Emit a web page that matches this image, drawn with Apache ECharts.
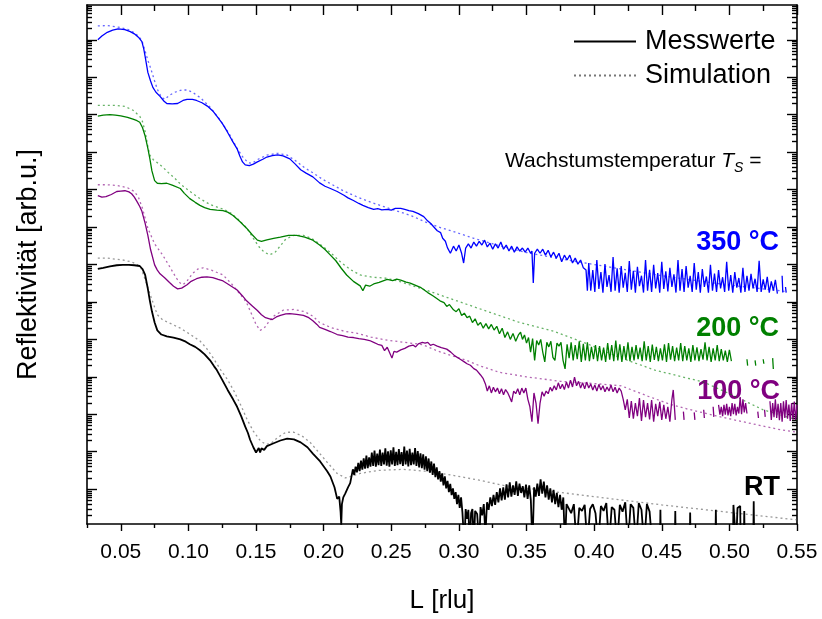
<!DOCTYPE html>
<html>
<head>
<meta charset="utf-8">
<title>Reflektivität</title>
<script src="https://cdn.jsdelivr.net/npm/echarts@6/dist/echarts.min.js"></script>
<style>
  html, body { margin: 0; background: #fff; }
  #main { width: 822px; height: 619px; }
</style>
</head>
<body>
<div id="main"></div>
<script>
// Werte: [L (rlu), log10(Reflektivität, arb.u.)], Kurven wie im Plot versetzt

var mess350 = [[0.033,12.00],[0.036,12.10],[0.040,12.20],[0.044,12.26],[0.048,12.29],[0.053,12.27],[0.057,12.22],[0.060,12.16],[0.063,12.07],[0.0656,11.95],[0.067,11.75],[0.068,11.55],[0.070,11.13],[0.072,10.90],[0.0737,10.73],[0.076,10.60],[0.079,10.49],[0.082,10.36],[0.084,10.30],[0.088,10.29],[0.092,10.30],[0.096,10.38],[0.099,10.41],[0.103,10.41],[0.106,10.38],[0.110,10.32],[0.114,10.23],[0.118,10.10],[0.121,9.96],[0.125,9.77],[0.1285,9.56],[0.132,9.33],[0.136,9.09],[0.138,8.90],[0.140,8.74],[0.142,8.66],[0.145,8.64],[0.148,8.68],[0.151,8.74],[0.155,8.81],[0.158,8.87],[0.162,8.91],[0.166,8.93],[0.170,8.90],[0.175,8.82],[0.179,8.68],[0.183,8.53],[0.187,8.44],[0.192,8.34],[0.197,8.18],[0.201,8.09],[0.205,8.03],[0.210,7.95],[0.215,7.85],[0.218,7.78],[0.222,7.71],[0.226,7.63],[0.229,7.58],[0.233,7.52],[0.237,7.47],[0.240,7.49],[0.243,7.46],[0.247,7.47],[0.250,7.45],[0.253,7.50],[0.257,7.50],[0.260,7.47],[0.263,7.44],[0.266,7.42],[0.270,7.36],[0.274,7.28],[0.277,7.16],[0.279,7.10],[0.281,7.02],[0.284,6.90],[0.2865,6.85],[0.288,6.70],[0.290,6.62],[0.2915,6.45],[0.2937,6.30],
  [0.296,6.49],[0.298,6.36],[0.300,6.52],[0.302,6.30],[0.3035,6.04],[0.305,6.44],[0.307,6.55],[0.309,6.44],[0.311,6.60],[0.313,6.49],[0.315,6.62],[0.317,6.52],[0.319,6.65],[0.321,6.47],[0.323,6.57],[0.325,6.41],[0.327,6.55],[0.329,6.44],[0.331,6.60],[0.333,6.41],[0.335,6.52],[0.337,6.36],[0.339,6.49],[0.341,6.33],[0.343,6.47],[0.345,6.36],[0.347,6.44],[0.349,6.33],[0.351,6.44],[0.353,6.30],[0.354,6.36],[0.355,5.51],[0.356,6.30],[0.358,6.41],[0.360,6.30],[0.362,6.41],[0.364,6.25],[0.366,6.38],[0.368,6.20],[0.370,6.33],[0.372,6.17],[0.374,6.30],[0.376,6.07],[0.378,6.25],[0.380,6.12],[0.382,6.25],[0.384,6.04],[0.386,6.17],[0.388,6.01],[0.390,6.12],[0.392,5.91],[0.394,5.85],[0.395,5.30],
  [0.3960,6.04],[0.3975,5.30],[0.3990,5.85],[0.4005,5.27],[0.4020,6.12],[0.4035,5.35],[0.4050,5.80],[0.4065,5.25],[0.4080,6.01],[0.4095,5.40],[0.4110,5.72],[0.4125,5.27],[0.4140,6.20],[0.4155,5.30],[0.4170,5.90],[0.4185,5.25],[0.4200,5.96],[0.4215,5.38],[0.4230,5.78],[0.4245,5.27],[0.4260,6.09],[0.4275,5.33],[0.4290,5.83],[0.4305,5.25],[0.4320,5.94],[0.4335,5.42],[0.4350,5.70],[0.4365,5.25],[0.4380,6.12],[0.4395,5.30],[0.4410,5.86],[0.4425,5.27],[0.4440,5.99],[0.4455,5.36],[0.4470,5.77],[0.4485,5.25],[0.4500,6.07],[0.4515,5.35],[0.4530,5.82],[0.4545,5.28],[0.4560,5.91],[0.4575,5.40],[0.4590,5.74],[0.4605,5.25],[0.4620,6.12],[0.4635,5.30],[0.4650,5.88],[0.4665,5.27],[0.4680,5.96],[0.4695,5.38],[0.4710,5.70],[0.4725,5.27],[0.4740,6.04],[0.4755,5.33],[0.4770,5.80],[0.4785,5.25],[0.4800,5.88],[0.4815,5.40],[0.4830,5.68],[0.4845,5.25],[0.4860,5.99],[0.4875,5.30],[0.4890,5.76],[0.4905,5.27],[0.4920,5.85],[0.4935,5.36],[0.4950,5.66],[0.4965,5.27],[0.4980,6.07],[0.4995,5.30],[0.5010,5.72],[0.5025,5.25],[0.5040,5.80],[0.5055,5.38],[0.5070,5.64],[0.5085,5.25],[0.5100,5.91],[0.5115,5.27],[0.5130,5.70],[0.5145,5.30],[0.5160,5.75],[0.5175,5.36],[0.5190,5.62],[0.5205,5.27],[0.5220,6.10],[0.5235,5.27],[0.5250,5.60],[0.5265,5.33],[0.5280,5.67],[0.5295,5.25],[0.5310,5.55],[0.5325,5.30],[0.5340,5.59],[0.5355,5.22],[0.5370,null],[0.5390,5.70],[0.5395,5.25],[0.5400,null],[0.5415,5.40],[0.5420,5.25]];

var sim350 = [[0.033,12.37],[0.040,12.38],[0.048,12.34],[0.055,12.28],[0.059,12.21],[0.063,12.10],[0.0656,11.98],[0.068,11.70],[0.070,11.45],[0.072,11.25],[0.075,10.90],[0.077,10.68],[0.080,10.47],[0.0826,10.41],[0.086,10.52],[0.090,10.60],[0.095,10.66],[0.099,10.66],[0.103,10.60],[0.109,10.45],[0.116,10.20],[0.123,9.88],[0.130,9.50],[0.136,9.10],[0.140,8.88],[0.144,8.72],[0.147,8.70],[0.151,8.80],[0.158,8.92],[0.166,8.97],[0.173,8.92],[0.180,8.75],[0.186,8.58],[0.192,8.45],[0.199,8.28],[0.205,8.16],[0.215,7.96],[0.225,7.80],[0.235,7.66],[0.245,7.54],[0.255,7.42],[0.265,7.30],[0.275,7.14],[0.285,7.00],[0.296,6.88],[0.311,6.70],[0.330,6.50],[0.350,6.32],[0.375,6.15],[0.400,6.00],[0.450,5.70],[0.500,5.45],[0.542,5.28]];

var mess200 = [[0.033,9.96],[0.037,9.99],[0.042,10.00],[0.046,9.99],[0.050,9.97],[0.055,9.93],[0.059,9.88],[0.062,9.84],[0.064,9.80],[0.066,9.66],[0.068,9.43],[0.070,9.10],[0.0715,8.82],[0.073,8.50],[0.075,8.24],[0.077,8.17],[0.080,8.16],[0.084,8.17],[0.088,8.12],[0.094,8.03],[0.097,7.90],[0.101,7.76],[0.105,7.66],[0.1085,7.58],[0.112,7.52],[0.116,7.47],[0.121,7.45],[0.1256,7.44],[0.129,7.40],[0.133,7.31],[0.138,7.15],[0.143,6.97],[0.147,6.80],[0.151,6.65],[0.154,6.62],[0.158,6.66],[0.163,6.70],[0.168,6.73],[0.174,6.78],[0.180,6.78],[0.186,6.73],[0.192,6.65],[0.197,6.52],[0.201,6.40],[0.205,6.25],[0.209,6.10],[0.213,5.90],[0.217,5.72],[0.222,5.55],[0.227,5.43],[0.229,5.30],[0.231,5.45],[0.234,5.42],[0.237,5.48],[0.241,5.52],[0.244,5.56],[0.247,5.60],[0.251,5.57],[0.254,5.61],[0.257,5.58],[0.261,5.53],[0.264,5.50],[0.268,5.44],[0.272,5.38],[0.277,5.25],[0.281,5.16],[0.286,5.03],[0.289,4.98],[0.291,4.88],[0.293,4.93],[0.296,4.79],[0.298,4.74],[0.300,4.82],[0.302,4.64],[0.304,4.70],[0.306,4.58],[0.308,4.62],[0.310,4.45],[0.312,4.55],[0.314,4.38],[0.316,4.45],[0.318,4.30],[0.320,4.42],[0.322,4.28],[0.324,4.40],[0.326,4.25],[0.328,4.35],[0.330,4.15],[0.332,4.30],[0.334,4.05],[0.336,4.20],[0.338,4.00],[0.340,4.16],[0.342,3.95],[0.344,4.12],
  [0.3456,4.19],[0.3470,4.00],[0.3485,4.12],[0.3500,3.90],[0.3515,4.05],[0.3530,3.66],[0.3545,4.02],[0.3560,3.44],[0.3575,3.97],[0.3590,3.85],[0.3605,4.00],[0.3620,3.66],[0.3635,3.40],[0.3650,3.92],[0.3665,3.80],[0.3680,3.95],[0.3695,3.52],[0.3710,3.44],[0.3725,3.90],[0.3740,3.82],[0.3755,3.92],[0.3770,3.44],[0.3785,3.21],[0.3800,3.87],[0.3815,3.50],[0.3830,3.92],[0.3845,3.44],[0.3860,3.85],[0.3875,3.47],[0.3890,3.95],[0.3905,3.40],[0.3920,3.88],[0.3935,3.44],[0.3950,3.92],[0.3965,3.42],[0.3980,3.80],[0.3995,3.47],[0.4010,3.85],[0.4025,3.42],[0.4040,3.82],[0.4055,3.44],[0.4070,3.78],[0.4085,3.40],[0.4100,3.90],[0.4115,3.46],[0.4130,3.85],[0.4145,3.42],[0.4160,3.97],[0.4175,3.44],[0.4190,3.87],[0.4205,3.40],[0.4220,3.82],[0.4235,3.45],[0.4250,3.92],[0.4265,3.42],[0.4280,3.80],[0.4295,3.44],[0.4310,3.85],[0.4325,3.47],[0.4340,3.78],[0.4355,3.42],[0.4370,3.95],[0.4385,3.44],[0.4400,3.82],[0.4415,3.40],[0.4430,3.86],[0.4445,3.45],[0.4460,3.80],[0.4475,3.42],[0.4490,3.76],[0.4505,3.44],[0.4520,3.87],[0.4535,3.40],[0.4550,3.90],[0.4565,3.46],[0.4580,3.82],[0.4595,3.42],[0.4610,3.78],[0.4625,3.44],[0.4640,3.90],[0.4655,3.42],[0.4670,3.82],[0.4685,3.44],[0.4700,3.76],[0.4715,3.40],[0.4730,3.85],[0.4745,3.44],[0.4760,3.79],[0.4775,3.42],[0.4790,3.74],[0.4805,3.46],[0.4820,3.92],[0.4835,3.44],[0.4850,3.80],[0.4865,3.40],[0.4880,3.76],[0.4895,3.44],[0.4910,3.85],[0.4925,3.42],[0.4940,3.74],[0.4955,3.44],[0.4970,3.70],[0.4985,3.40],[0.5000,3.72],[0.5015,3.42],[0.5030,null],
  [0.513,3.47],[0.5135,3.30],[0.514,null],[0.519,3.44],[0.5195,3.30],[0.520,null],[0.525,3.47],[0.5255,3.35],[0.526,null],[0.532,3.50],[0.5325,3.21]];

var sim200 = [[0.033,10.25],[0.040,10.25],[0.046,10.25],[0.053,10.22],[0.059,10.12],[0.064,9.96],[0.066,9.82],[0.068,9.55],[0.070,9.15],[0.0715,8.92],[0.074,8.80],[0.077,8.72],[0.081,8.60],[0.085,8.46],[0.090,8.30],[0.094,8.15],[0.100,7.98],[0.1085,7.76],[0.116,7.60],[0.1256,7.48],[0.131,7.38],[0.137,7.20],[0.143,6.98],[0.148,6.70],[0.152,6.48],[0.156,6.33],[0.160,6.26],[0.164,6.32],[0.168,6.50],[0.172,6.68],[0.178,6.78],[0.185,6.78],[0.191,6.70],[0.197,6.55],[0.205,6.32],[0.213,6.05],[0.220,5.86],[0.227,5.72],[0.236,5.66],[0.245,5.64],[0.255,5.56],[0.265,5.44],[0.277,5.30],[0.296,5.06],[0.320,4.76],[0.345,4.45],[0.370,4.22],[0.395,3.88],[0.420,3.50],[0.445,3.18],[0.465,3.00],[0.481,2.86],[0.500,2.55],[0.525,2.12],[0.550,1.85]];

var mess100 = [[0.033,7.84],[0.036,7.80],[0.039,7.81],[0.043,7.87],[0.047,7.95],[0.050,7.96],[0.053,7.97],[0.056,7.94],[0.058,7.89],[0.060,7.80],[0.062,7.68],[0.064,7.55],[0.0656,7.42],[0.068,7.10],[0.070,6.78],[0.072,6.40],[0.075,5.99],[0.077,5.85],[0.079,5.75],[0.0826,5.64],[0.086,5.52],[0.089,5.42],[0.092,5.35],[0.095,5.37],[0.099,5.46],[0.102,5.55],[0.106,5.62],[0.110,5.66],[0.1137,5.67],[0.118,5.65],[0.122,5.60],[0.1256,5.56],[0.130,5.46],[0.136,5.32],[0.140,5.16],[0.143,5.03],[0.147,4.90],[0.151,4.77],[0.154,4.66],[0.157,4.58],[0.160,4.55],[0.162,4.53],[0.165,4.60],[0.168,4.64],[0.172,4.68],[0.175,4.69],[0.180,4.67],[0.185,4.64],[0.189,4.58],[0.192,4.50],[0.195,4.40],[0.197,4.32],[0.201,4.27],[0.205,4.21],[0.210,4.13],[0.214,4.10],[0.218,4.06],[0.222,4.05],[0.226,4.02],[0.230,4.00],[0.234,3.97],[0.237,3.92],[0.240,3.87],[0.243,3.84],[0.245,3.70],[0.247,3.79],[0.2505,3.50],[0.252,3.68],[0.254,3.66],[0.257,3.72],[0.260,3.76],[0.263,3.82],[0.266,3.85],[0.268,3.80],[0.270,3.88],[0.273,3.92],[0.275,3.90],[0.277,3.92],[0.279,3.84],[0.281,3.87],[0.284,3.82],[0.287,3.78],[0.291,3.74],[0.294,3.66],[0.297,3.56],[0.301,3.47],[0.304,3.40],[0.306,3.35],[0.3085,3.31],[0.311,3.22],[0.313,3.18],[0.316,3.05],[0.318,2.95],
  [0.3196,2.81],[0.3210,2.62],[0.3225,2.76],[0.3240,2.57],[0.3255,2.72],[0.3270,2.60],[0.3285,2.70],[0.3300,2.55],[0.3315,2.68],[0.3330,2.52],[0.3345,2.66],[0.3360,2.58],[0.3375,2.46],[0.3390,2.33],[0.3405,2.62],[0.3420,2.55],[0.3435,2.68],[0.3450,2.52],[0.3465,2.70],[0.3480,2.57],[0.3495,2.70],[0.3510,2.40],[0.3525,2.20],[0.3540,1.80],[0.3555,2.57],[0.3570,2.30],[0.3585,1.75],[0.3600,2.30],[0.3615,2.60],[0.3630,2.48],[0.3645,2.62],[0.3660,2.55],[0.3675,2.72],[0.3690,2.62],[0.3705,2.76],[0.3720,2.65],[0.3735,2.84],[0.3750,2.68],[0.3765,2.80],[0.3780,2.66],[0.3795,2.86],[0.3810,2.70],[0.3825,2.91],[0.3840,2.73],[0.3855,2.99],[0.3870,2.76],[0.3885,2.88],[0.3900,2.70],[0.3915,2.84],[0.3930,2.68],[0.3945,2.86],[0.3960,2.70],[0.3975,2.81],[0.3990,2.65],[0.4005,2.78],[0.4020,2.62],[0.4035,2.80],[0.4050,2.65],[0.4065,2.76],[0.4080,2.60],[0.4095,2.73],[0.4110,2.62],[0.4125,2.78],[0.4140,2.60],[0.4155,2.72],[0.4170,2.57],[0.4185,2.70],[0.4200,2.62],[0.4215,2.40],[0.4230,2.12],[0.4245,2.40],[0.4260,1.90],[0.4275,2.35],[0.4290,1.88],[0.4305,2.30],[0.4320,1.95],[0.4335,2.43],[0.4350,1.82],[0.4365,2.38],[0.4380,1.92],[0.4395,2.30],[0.4410,1.86],[0.4425,2.38],[0.4440,1.80],[0.4455,2.28],[0.4470,1.95],[0.4485,2.33],[0.4500,1.85],[0.4515,2.25],[0.4530,1.88],[0.4545,2.20],[0.4560,1.80],[0.4575,2.40],[0.4585,2.65],[0.4600,1.85],[0.4620,null],
  [0.466,2.07],[0.4665,1.85],[0.467,null],[0.474,2.05],[0.4745,1.85],[0.475,null],[0.481,2.12],[0.4815,1.90],[0.482,null],[0.488,2.20],[0.4885,1.93],[0.489,null],
  [0.492,2.25],[0.493,1.99],[0.494,2.20],[0.495,1.95],[0.496,2.25],[0.497,1.99],[0.498,2.28],[0.499,1.97],[0.500,2.20],[0.501,1.95],[0.502,2.30],[0.503,2.00],[0.504,2.28],[0.505,1.97],[0.506,2.20],[0.507,2.02],[0.508,2.46],[0.509,2.00],[0.510,2.40],[0.511,2.05],[0.512,2.30],[0.513,2.02],[0.514,null],
  [0.521,2.07],[0.5215,1.90],[0.522,null],[0.526,2.12],[0.5265,1.93],[0.527,null],
  [0.530,2.35],[0.531,1.85],[0.532,2.30],[0.533,1.92],[0.534,2.40],[0.535,1.90],[0.536,2.28],[0.537,1.84],[0.538,2.30],[0.539,1.80],[0.540,2.35],[0.541,1.90],[0.542,2.38],[0.543,1.88],[0.544,2.26],[0.545,1.82],[0.546,2.30],[0.547,1.86],[0.548,2.34],[0.549,1.85],[0.550,2.25]];

var sim100 = [[0.033,8.13],[0.040,8.13],[0.047,8.11],[0.055,8.05],[0.060,7.95],[0.063,7.80],[0.066,7.50],[0.070,6.97],[0.075,6.55],[0.081,6.25],[0.086,5.95],[0.091,5.64],[0.094,5.50],[0.096,5.46],[0.099,5.56],[0.103,5.76],[0.107,5.88],[0.111,5.91],[0.117,5.85],[0.1256,5.72],[0.132,5.48],[0.138,5.22],[0.143,4.98],[0.147,4.65],[0.150,4.40],[0.153,4.24],[0.156,4.30],[0.159,4.45],[0.163,4.62],[0.170,4.78],[0.178,4.80],[0.186,4.74],[0.192,4.62],[0.197,4.45],[0.205,4.32],[0.215,4.22],[0.225,4.16],[0.235,4.06],[0.247,3.98],[0.260,3.92],[0.273,3.86],[0.285,3.68],[0.296,3.55],[0.305,3.45],[0.315,3.30],[0.330,3.12],[0.350,3.00],[0.375,2.88],[0.400,2.82],[0.420,2.76],[0.440,2.48],[0.455,2.28],[0.469,2.14],[0.490,1.96],[0.510,1.80],[0.536,1.60],[0.550,1.52]];

var messRT = [[0.033,5.88],[0.037,5.91],[0.042,5.95],[0.047,5.98],[0.0515,5.99],[0.056,5.99],[0.060,5.98],[0.064,5.96],[0.066,5.88],[0.068,5.72],[0.070,5.35],[0.0715,5.03],[0.073,4.75],[0.075,4.45],[0.077,4.24],[0.080,4.13],[0.084,4.08],[0.089,4.05],[0.094,4.00],[0.098,3.94],[0.101,3.87],[0.105,3.80],[0.1085,3.71],[0.112,3.60],[0.116,3.44],[0.119,3.28],[0.121,3.18],[0.125,2.92],[0.129,2.65],[0.133,2.40],[0.136,2.20],[0.139,1.95],[0.142,1.67],[0.144,1.50],[0.1456,1.32],[0.148,1.12],[0.150,0.98],[0.151,0.95],[0.152,1.10],[0.153,0.98],[0.154,1.09],[0.156,1.05],[0.158,1.15],[0.1626,1.22],[0.168,1.30],[0.173,1.35],[0.178,1.33],[0.183,1.25],[0.188,1.12],[0.192,0.95],[0.1974,0.74],[0.2026,0.48],[0.205,0.34],[0.208,0.05],[0.210,-0.26],[0.2115,-0.20],[0.2125,-0.60],[0.213,-0.95],[0.2135,-0.40],[0.2145,-0.22],[0.216,-0.11],[0.218,0.05],[0.2196,0.16],
  [0.2216,0.53],[0.2226,0.38],[0.2236,0.60],[0.2246,0.45],[0.2256,0.70],[0.2266,0.48],[0.2276,0.76],[0.2286,0.52],[0.2296,0.82],[0.2306,0.55],[0.2316,0.90],[0.2326,0.56],[0.2336,0.85],[0.2346,0.60],[0.2356,0.98],[0.2366,0.62],[0.2376,1.03],[0.2386,0.60],[0.2396,0.95],[0.2406,0.64],[0.2416,1.06],[0.2426,0.62],[0.2436,0.98],[0.2446,0.66],[0.2456,1.09],[0.2466,0.63],[0.2476,1.01],[0.2486,0.60],[0.2496,1.04],[0.2506,0.66],[0.2516,1.12],[0.2526,0.62],[0.2536,1.00],[0.2546,0.64],[0.2556,1.07],[0.2566,0.67],[0.2576,0.99],[0.2586,0.62],[0.2596,1.14],[0.2606,0.66],[0.2616,1.03],[0.2626,0.61],[0.2636,1.08],[0.2646,0.64],[0.2656,0.98],[0.2666,0.66],[0.2676,1.10],[0.2686,0.62],[0.2696,1.02],[0.2706,0.58],[0.2716,0.96],[0.2726,0.56],[0.2736,0.93],[0.2746,0.52],[0.2756,0.88],[0.2766,0.48],[0.2776,0.82],[0.2786,0.44],[0.2796,0.74],[0.2806,0.38],[0.2816,0.68],[0.2826,0.32],[0.2836,0.58],[0.2846,0.26],[0.2856,0.48],[0.2866,0.20],[0.2876,0.42],[0.2886,0.10],[0.2896,0.34],[0.2906,0.02],[0.2916,0.22],[0.2926,-0.08],[0.2936,0.14],[0.2946,-0.16],[0.2956,0.02],[0.2966,-0.26],[0.2976,-0.08],[0.2986,-0.40],[0.2996,-0.15],[0.3006,-0.50],[0.3016,-0.22],[0.3026,-0.62],
  [0.304,-1.5],[0.305,-0.53],[0.306,-0.79],[0.307,-0.55],[0.308,-1.5],[0.309,-0.64],[0.310,-0.53],[0.311,-1.5],[0.312,-0.58],[0.3135,-0.66],[0.315,-1.5],
  [0.3160,-0.48],[0.3172,-0.70],[0.3184,-0.40],[0.3196,-1.20],[0.3208,-0.35],[0.3220,-0.55],[0.3232,-0.22],[0.3244,-0.45],[0.3256,-0.15],[0.3268,-0.42],[0.3280,-0.08],[0.3292,-0.35],[0.3304,0.02],[0.3316,-0.30],[0.3328,0.05],[0.3340,-0.28],[0.3352,0.13],[0.3364,-0.22],[0.3376,0.18],[0.3388,-0.20],[0.3400,0.10],[0.3412,-0.15],[0.3424,0.21],[0.3436,-0.18],[0.3448,0.15],[0.3460,-0.10],[0.3472,0.08],[0.3484,-0.22],[0.3496,0.12],[0.3508,-0.26],[0.3520,0.10],[0.3532,-0.30],[0.3544,-1.50],[0.3556,0.05],[0.3568,-0.20],[0.3580,0.15],[0.3592,-0.18],[0.3604,0.26],[0.3616,-0.12],[0.3628,0.20],[0.3640,-0.22],[0.3652,0.10],[0.3664,-0.28],[0.3676,0.02],[0.3688,-0.35],[0.3700,-0.02],[0.3712,-0.40],[0.3724,-0.10],[0.3736,-0.48],[0.3748,-0.15],[0.3760,-0.55],[0.3772,-0.22],[0.3784,-1.50],[0.3796,-0.40],
  [0.381,-0.45],[0.383,-0.64],[0.385,-0.40],[0.387,-1.5],[0.389,-0.50],[0.391,-0.58],[0.393,-0.42],[0.395,-1.5],[0.397,-0.53],[0.399,-0.40],[0.401,-0.64],[0.403,-1.5],[0.405,-0.45],[0.407,-0.58],[0.409,-0.37],[0.411,-1.5],[0.413,-0.48],[0.415,-0.55],[0.417,-1.5],[0.419,-0.42],[0.421,-0.60],[0.423,-0.35],[0.425,-1.5],[0.427,-0.40],[0.429,-0.50],[0.431,-1.5],[0.433,-0.37],[0.435,-0.55],[0.437,-1.5],[0.439,-0.40],[0.441,-0.60],[0.443,-1.5],
  [0.4485,-2],[0.449,-0.55],[0.4495,-2],[0.4595,-2],[0.460,-0.58],[0.4605,-2],[0.4705,-2],[0.471,-0.62],[0.4715,-2],[0.4895,-2],[0.490,-0.55],[0.4905,-2],[0.5025,-2],[0.503,-0.42],[0.505,-1.5],[0.506,-0.50],[0.508,-0.45],[0.5085,-2],[0.5105,-2],[0.511,-0.58],[0.5115,-2],[0.5175,-2],[0.518,-0.32],[0.5185,-2]];

var simRT = [[0.033,6.17],[0.040,6.17],[0.0515,6.12],[0.058,6.07],[0.062,6.00],[0.065,5.90],[0.068,5.60],[0.0715,5.22],[0.075,4.86],[0.077,4.66],[0.081,4.52],[0.087,4.42],[0.094,4.30],[0.101,4.14],[0.1085,3.96],[0.113,3.78],[0.118,3.52],[0.124,3.18],[0.129,2.92],[0.134,2.60],[0.139,2.22],[0.1435,1.85],[0.148,1.55],[0.153,1.30],[0.157,1.20],[0.161,1.22],[0.166,1.38],[0.172,1.52],[0.178,1.52],[0.184,1.42],[0.190,1.25],[0.196,1.00],[0.203,0.70],[0.210,0.42],[0.216,0.30],[0.222,0.36],[0.227,0.42],[0.240,0.50],[0.259,0.53],[0.275,0.48],[0.294,0.38],[0.315,0.24],[0.333,0.10],[0.360,-0.02],[0.400,-0.20],[0.450,-0.42],[0.500,-0.62],[0.550,-0.82]];

var xTicks = [0.05, 0.10, 0.15, 0.20, 0.25, 0.30, 0.35, 0.40, 0.45, 0.50, 0.55];
var xMinorTicks = [0.025, 0.075, 0.125, 0.175, 0.225, 0.275, 0.325, 0.375, 0.425, 0.475, 0.525];
var yDecades = [0, 1, 2, 3, 4, 5, 6, 7, 8, 9, 10, 11, 12];
var yMin = -0.93, yMax = 12.93;

// Logarithmische Nebenstriche 2..9 je Dekade
var yMinorTicks = [];
for (var n = -1; n <= 12; n++) {
  for (var k = 2; k <= 9; k++) {
    var v = n + Math.log10(k);
    if (v > yMin && v < yMax) yMinorTicks.push(v);
  }
}

function toR(arr) {
  return arr.map(function (p) {
    return [p[0], p[1] == null ? null : Math.pow(10, p[1])];
  });
}

var FONT = '"Liberation Sans", Arial, sans-serif';
var farben = { c350: '#0000ff', c200: '#008000', c100: '#800080', rt: '#000000' };

function xAxe(pos, values, len, inside, showLine, showLabel) {
  return {
    type: 'value', position: pos, min: 0.025, max: 0.55,
    axisLine: { show: showLine, onZero: false, lineStyle: { color: '#000', width: 1.6 } },
    axisTick: { show: true, customValues: values, inside: inside, length: len, lineStyle: { color: '#000', width: 1.4 } },
    axisLabel: showLabel ? {
      show: true, customValues: xTicks, margin: 18, fontSize: 21, color: '#000', fontFamily: FONT,
      formatter: function (v) { return v.toFixed(2); }
    } : { show: false },
    splitLine: { show: false }
  };
}

function yAxe(pos, values, len, showLine) {
  return {
    type: 'value', position: pos, min: yMin, max: yMax,
    axisLine: { show: showLine, onZero: false, lineStyle: { color: '#000', width: 1.6 } },
    axisTick: { show: true, customValues: values, inside: true, length: len, lineStyle: { color: '#000', width: 1.4 } },
    axisLabel: { show: false },
    splitLine: { show: false }
  };
}

function linie(name, daten, farbe, gepunktet, breite) {
  return {
    name: name, type: 'line', xAxisIndex: 0, yAxisIndex: 0,
    data: toR(daten), symbol: 'none', silent: true, connectNulls: false,
    z: gepunktet ? 2 : 3,
    lineStyle: gepunktet
      ? { color: farbe, width: 1.3, type: [2, 3], opacity: 0.6 }
      : { color: farbe, width: breite || 1.3 },
    itemStyle: { color: farbe }
  };
}

var chart = echarts.init(document.getElementById('main'));

var xBottom = xAxe('bottom', xTicks, 7, false, true, true);
xBottom.name = 'L [rlu]';
xBottom.nameLocation = 'middle';
xBottom.nameGap = 64;
xBottom.nameTextStyle = { fontSize: 26, color: '#000', fontFamily: FONT };

chart.setOption({
  animation: false,
  backgroundColor: '#fff',
  grid: { left: 87, right: 25, top: 5, bottom: 91, containLabel: false },
  legend: {
    data: ['Messwerte', 'Simulation'],
    orient: 'vertical', left: 573, top: 28, padding: 0,
    itemWidth: 62, itemHeight: 22, itemGap: 7, selectedMode: false,
    itemStyle: { opacity: 0 },
    textStyle: { fontSize: 27, color: '#000', fontFamily: FONT, padding: [0, 0, 0, 4] }
  },
  xAxis: [
    xBottom,
    xAxe('bottom', xMinorTicks, 4, false, false, false),
    xAxe('top', xTicks, 10, true, true, false),
    xAxe('top', xMinorTicks, 6, true, false, false)
  ],
  yAxis: [
    {
      type: 'log', logBase: 10, position: 'left',
      min: Math.pow(10, yMin), max: Math.pow(10, yMax),
      axisLine: { show: true, lineStyle: { color: '#000', width: 1.6 } },
      axisTick: { show: false }, axisLabel: { show: false }, splitLine: { show: false },
      name: 'Reflektivität [arb.u.]', nameLocation: 'middle', nameGap: 45,
      nameTextStyle: { fontSize: 27, color: '#000', fontFamily: FONT }
    },
    yAxe('left', yDecades, 10, false),
    yAxe('left', yMinorTicks, 5, false),
    yAxe('right', yDecades, 10, true),
    yAxe('right', yMinorTicks, 5, false)
  ],
  series: [
    linie('sim350', sim350, farben.c350, true),
    linie('sim200', sim200, farben.c200, true),
    linie('sim100', sim100, farben.c100, true),
    linie('simRT', simRT, '#555555', true),
    linie('mess350', mess350, farben.c350, false),
    linie('mess200', mess200, farben.c200, false),
    linie('mess100', mess100, farben.c100, false),
    linie('messRT', messRT, farben.rt, false, 1.8),
    { name: 'Messwerte', type: 'line', data: [], symbol: 'none',
      lineStyle: { color: '#000', width: 1.3 }, itemStyle: { color: '#000' } },
    { name: 'Simulation', type: 'line', data: [], symbol: 'none',
      lineStyle: { color: '#777', width: 1.3, type: [2, 3] }, itemStyle: { color: '#777' } }
  ],
  graphic: [
    { type: 'text', x: 779, y: 243, style: { text: '350 °C', fill: farben.c350, font: 'bold 27px ' + FONT, align: 'right', verticalAlign: 'middle' } },
    { type: 'text', x: 779, y: 329, style: { text: '200 °C', fill: farben.c200, font: 'bold 27px ' + FONT, align: 'right', verticalAlign: 'middle' } },
    { type: 'text', x: 780, y: 392, style: { text: '100 °C', fill: farben.c100, font: 'bold 27px ' + FONT, align: 'right', verticalAlign: 'middle' } },
    { type: 'text', x: 780, y: 488, style: { text: 'RT', fill: '#000', font: 'bold 27px ' + FONT, align: 'right', verticalAlign: 'middle' } },
    {
      type: 'text', x: 505, y: 161,
      style: {
        text: '{a|Wachstumstemperatur }{t|T}{s|S}{a| =}',
        align: 'left', verticalAlign: 'middle',
        rich: {
          a: { fontSize: 21, fontFamily: FONT, fill: '#000', color: '#000', lineHeight: 28 },
          t: { fontSize: 21, fontFamily: FONT, fontStyle: 'italic', fill: '#000', color: '#000', lineHeight: 28 },
          s: { fontSize: 14, fontFamily: FONT, fontStyle: 'italic', fill: '#000', color: '#000', lineHeight: 14, verticalAlign: 'bottom' }
        }
      }
    }
  ]
});
</script>
</body>
</html>
